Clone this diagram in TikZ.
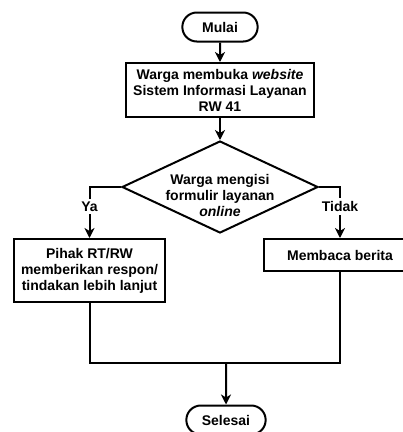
\documentclass[tikz,border=0pt]{standalone}
\usepackage{fontspec}
\setmainfont{Liberation Sans}
\usetikzlibrary{arrows.meta,positioning,shapes.geometric,shapes.misc}

\begin{document}
\begin{tikzpicture}[
  x=1pt, y=-1pt,
  >=Stealth,
  font=\fontsize{14}{16}\selectfont\bfseries,
  block/.style={rectangle, draw, line width=2pt, align=center, inner sep=2pt},
  terminal/.style={rounded rectangle, draw, line width=2pt, minimum width=82pt, minimum height=29pt},
  decision/.style={diamond, draw, line width=2pt, minimum width=196pt, minimum height=92pt, inner sep=0pt},
  line/.style={draw, line width=2pt, -{Stealth[length=10pt,width=10pt,inset=3pt]}},
  answer/.style={fill=white, inner sep=3pt}
]
\useasboundingbox (0,0) rectangle (403,432);
\clip (0,0) rectangle (403,432);

\node[terminal] (mulai) at (220,27) {Mulai};
\node[block, minimum width=188pt, minimum height=54pt] (web) at (220,90) {Warga membuka \textit{website}\\Sistem Informasi Layanan\\RW 41};
\node[decision, label={[align=center, yshift=-8pt]center:{Warga mengisi\\formulir layanan\\\textit{online}}}] (cek) at (220,187) {};
\node[block, minimum width=151pt, minimum height=63pt] (pihak) at (89.5,270.5) {Pihak RT/RW\\memberikan respon/\\tindakan lebih lanjut};
\node[block, minimum width=152pt, minimum height=32pt] (berita) at (340,255) {Membaca berita};
\node[terminal, minimum width=86pt] (selesai) at (226,420) {Selesai};
\coordinate (gabung) at (226,363);

\path[line] (mulai) -- (web);
\path[line] (web) -- (cek);
\path[line] (cek.west) -| node[answer, pos=0.69]{Ya} (pihak.north);
\path[line] (cek.east) -| node[answer, pos=0.69]{Tidak} (berita.north);

\draw[line width=2pt] (pihak.south) |- (gabung) -| (berita.south);
\path[line] (gabung) -- (selesai);

\end{tikzpicture}
\end{document}
